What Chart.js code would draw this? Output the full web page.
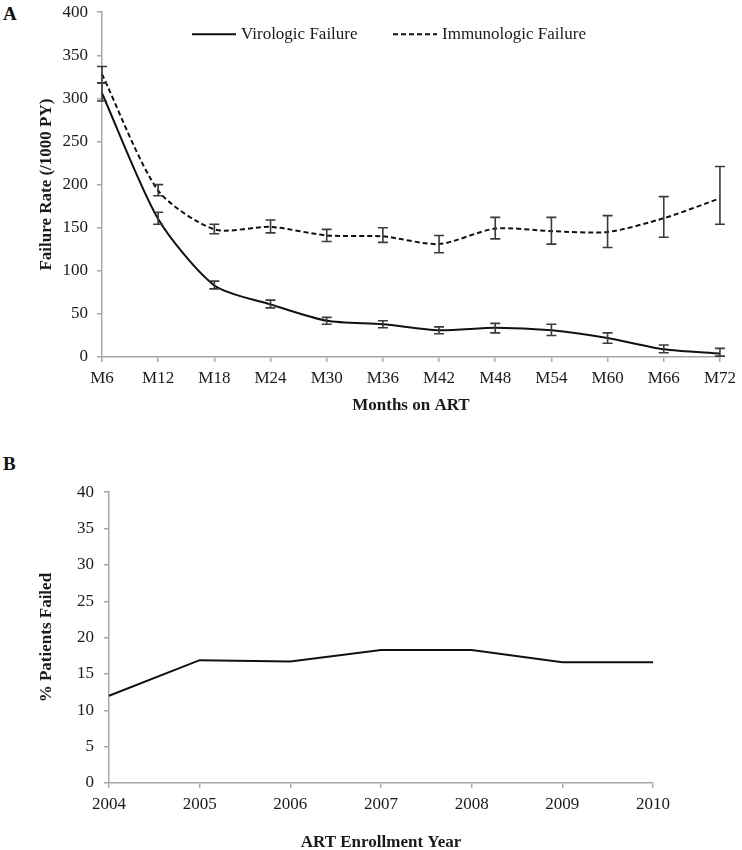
<!DOCTYPE html>
<html>
<head>
<meta charset="utf-8">
<script src="https://cdn.jsdelivr.net/npm/chart.js"></script>
<style>
  html, body { margin: 0; padding: 0; background: #fff; overflow: hidden; }
  body { width: 742px; height: 850px; position: relative; font-family: "Liberation Serif", "Times New Roman", serif; }
  .panel { position: absolute; left: 0; width: 742px; }
  .tag { position: absolute; left: 3px; font-weight: bold; font-size: 19px; color: #111; }
</style>
</head>
<body>
<div class="tag" style="top:3px">A</div>
<div class="tag" style="top:453px">B</div>
<div class="panel" style="top:-7px;height:440px"><canvas id="rateChart"></canvas></div>
<div class="panel" style="top:472px;height:390px"><canvas id="yearChart"></canvas></div>

<script>
// --- DATI ---
const months = ["M6", "M12", "M18", "M24", "M30", "M36", "M42", "M48", "M54", "M60", "M66", "M72"];
const virologic = [306, 160, 83, 61, 42, 38, 31, 34, 31, 22, 9, 4];
const virologicLow = [297, 154, 79, 57, 38, 34, 27, 28, 25, 16, 5, 1];
const virologicHigh = [318, 168, 88, 66, 46, 42, 35, 39, 38, 28, 14, 10];
const immunologic = [328, 193, 148, 151, 141, 140, 131, 149, 146, 145, 161, 184];
const immunologicLow = [318, 187, 143, 144, 134, 133, 121, 137, 131, 127, 139, 154];
const immunologicHigh = [337, 200, 154, 159, 148, 150, 141, 162, 162, 164, 186, 221];
const rateTicks = [0, 50, 100, 150, 200, 250, 300, 350, 400];

const years = ["2004", "2005", "2006", "2007", "2008", "2009", "2010"];
const pctFailed = [12, 16.9, 16.7, 18.3, 18.3, 16.6, 16.6];
const pctTicks = [0, 5, 10, 15, 20, 25, 30, 35, 40];

const FONT = "'Liberation Serif', 'Times New Roman', serif";
const AXIS_GREY = "#a8a8a8";
const INK = "#1a1a1a";

Chart.defaults.font.family = FONT;
Chart.defaults.color = INK;

// barre d'errore disegnate con le scale del grafico
const errorBars = {
  id: "errorBars",
  afterDatasetsDraw(chart) {
    const { ctx, scales: { x, y } } = chart;
    ctx.save();
    ctx.strokeStyle = "#3a3a3a";
    ctx.lineWidth = 1.6;
    ctx.setLineDash([]);
    chart.data.datasets.forEach(ds => {
      if (!ds.errLow) return;
      ds.data.forEach((v, i) => {
        const px = x.getPixelForValue(i);
        const lo = y.getPixelForValue(ds.errLow[i]);
        const hi = y.getPixelForValue(ds.errHigh[i]);
        ctx.beginPath();
        ctx.moveTo(px, lo); ctx.lineTo(px, hi);
        ctx.moveTo(px - 5, lo); ctx.lineTo(px + 5, lo);
        ctx.moveTo(px - 5, hi); ctx.lineTo(px + 5, hi);
        ctx.stroke();
      });
    });
    ctx.restore();
  }
};

// legenda dentro l'area del grafico
const insideLegend = {
  id: "insideLegend",
  afterDraw(chart) {
    const { ctx, chartArea } = chart;
    const y = chartArea.top + 22;
    const spots = [chartArea.left + 90, chartArea.left + 291];
    ctx.save();
    ctx.font = "17px " + FONT;
    ctx.fillStyle = INK;
    ctx.textBaseline = "middle";
    chart.data.datasets.forEach((ds, i) => {
      const x0 = spots[i];
      ctx.beginPath();
      ctx.strokeStyle = ds.borderColor;
      ctx.lineWidth = ds.borderWidth;
      ctx.setLineDash(ds.borderDash || []);
      ctx.moveTo(x0, y); ctx.lineTo(x0 + 44, y);
      ctx.stroke();
      ctx.fillText(ds.label, x0 + 49, y);
    });
    ctx.restore();
  }
};

function axisOpts(extra) {
  return Object.assign({
    border: { display: true, color: AXIS_GREY, width: 1.5 },
    grid: { display: true, drawOnChartArea: false, drawTicks: true, tickLength: 5, color: AXIS_GREY, lineWidth: 1.5 }
  }, extra);
}

new Chart(document.getElementById("rateChart"), {
  type: "line",
  data: {
    labels: months,
    datasets: [
      { label: "Virologic Failure", data: virologic, errLow: virologicLow, errHigh: virologicHigh,
        borderColor: "#111", borderWidth: 2, pointRadius: 0, tension: 0.25, fill: false },
      { label: "Immunologic Failure", data: immunologic, errLow: immunologicLow, errHigh: immunologicHigh,
        borderColor: "#111", borderWidth: 2, borderDash: [5, 3], pointRadius: 0, tension: 0.25, fill: false }
    ]
  },
  options: {
    responsive: true,
    maintainAspectRatio: false,
    animation: false,
    layout: { padding: { left: 0, right: 16, top: 12, bottom: 0 } },
    plugins: { legend: { display: false }, tooltip: { enabled: false } },
    scales: {
      x: axisOpts({
        offset: false,
        ticks: { font: { size: 17 }, padding: 6, maxRotation: 0, autoSkip: false },
        title: { display: true, text: "Months on ART", font: { size: 17, weight: "bold" }, padding: { top: 0, bottom: 17 } },
        afterFit: s => { s.height = 76; }
      }),
      y: axisOpts({
        min: 0, max: 400,
        afterBuildTicks: s => { s.ticks = rateTicks.map(v => ({ value: v })); },
        ticks: { font: { size: 17 }, padding: 9 },
        title: { display: true, text: "Failure Rate (/1000 PY)", font: { size: 17, weight: "bold" }, padding: { top: 36, bottom: 0 } },
        afterFit: s => { s.width = 102; }
      })
    }
  },
  plugins: [errorBars, insideLegend]
});

new Chart(document.getElementById("yearChart"), {
  type: "line",
  data: {
    labels: years,
    datasets: [
      { label: "% Patients Failed", data: pctFailed, borderColor: "#111", borderWidth: 2, pointRadius: 0, tension: 0, fill: false }
    ]
  },
  options: {
    responsive: true,
    maintainAspectRatio: false,
    animation: false,
    layout: { padding: { left: 0, right: 89, top: 12, bottom: 0 } },
    plugins: { legend: { display: false }, tooltip: { enabled: false } },
    scales: {
      x: axisOpts({
        offset: false,
        ticks: { font: { size: 17 }, padding: 6, maxRotation: 0, autoSkip: false },
        title: { display: true, text: "ART Enrollment Year", font: { size: 17, weight: "bold" }, padding: { top: 0, bottom: 9 } },
        afterFit: s => { s.height = 79; }
      }),
      y: axisOpts({
        min: 0, max: 40,
        afterBuildTicks: s => { s.ticks = pctTicks.map(v => ({ value: v })); },
        ticks: { font: { size: 17 }, padding: 10 },
        title: { display: true, text: "% Patients Failed", font: { size: 17, weight: "bold" }, padding: { top: 36, bottom: 0 } },
        afterFit: s => { s.width = 109; }
      })
    }
  }
});
</script>
</body>
</html>
